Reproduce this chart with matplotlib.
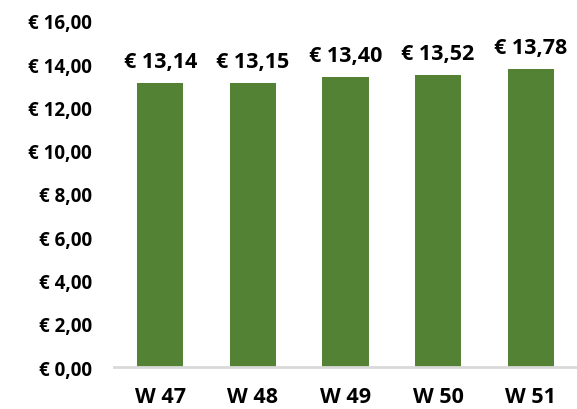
import matplotlib.pyplot as plt

weeks = ['W 47', 'W 48', 'W 49', 'W 50', 'W 51']
prices = [13.14, 13.15, 13.40, 13.52, 13.78]
yticks = [0, 2, 4, 6, 8, 10, 12, 14, 16]


def euro(v):
    return '€ ' + f'{v:.2f}'.replace('.', ',')


plt.rcParams['font.family'] = ['Open Sans', 'DejaVu Sans']
plt.rcParams['font.weight'] = 'bold'

fig = plt.figure(figsize=(5.77, 4.10), dpi=100)
ax = fig.add_axes([0.1976, 0.1024, 0.8024, 0.844])

x = range(len(weeks))
bars = ax.bar(x, prices, width=0.5, color='#548235', zorder=2)

for b, v in zip(bars, prices):
    ax.annotate(euro(v), (b.get_x() + b.get_width() / 2, v),
                xytext=(0, 8), textcoords='offset points',
                ha='center', va='bottom', fontsize=15.5, fontweight='bold')

ax.set_xlim(-0.5, len(weeks) - 0.5)
ax.set_ylim(0, 16)
ax.set_xticks(list(x))
ax.set_xticklabels(weeks, fontsize=15.5, fontweight='bold')
ax.set_yticks(yticks)
ax.set_yticklabels([euro(v) for v in yticks], fontsize=13.5, fontweight='bold')
ax.tick_params(axis='both', length=0)
ax.tick_params(axis='y', pad=16)
ax.tick_params(axis='x', pad=14)

for s in ['top', 'right', 'left']:
    ax.spines[s].set_visible(False)
ax.spines['bottom'].set_color('#d9d9d9')
ax.spines['bottom'].set_linewidth(2)

fig.savefig('out.png', dpi=100)
